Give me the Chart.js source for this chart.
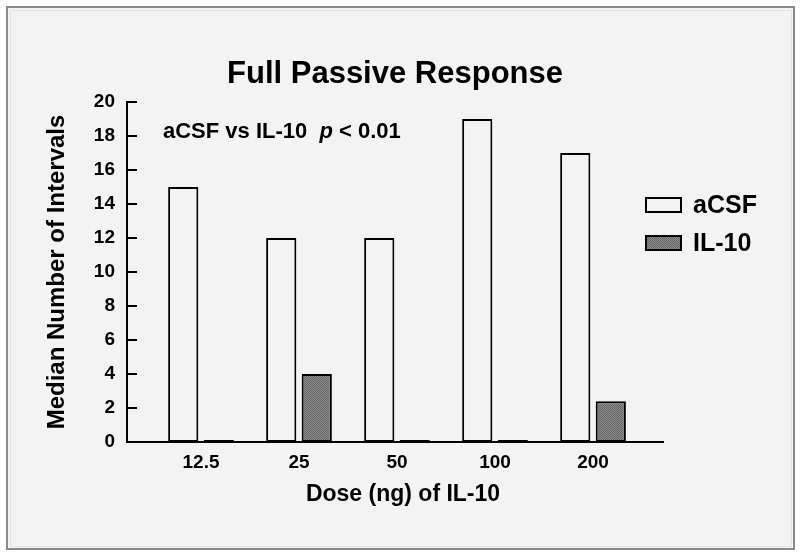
<!DOCTYPE html>
<html>
<head>
<meta charset="utf-8">
<script src="https://cdn.jsdelivr.net/npm/chart.js@4.4.1/dist/chart.umd.min.js"></script>
<style>
  html, body { margin: 0; padding: 0; background: #fff; }
</style>
</head>
<body>
<canvas id="myChart" width="800" height="559"></canvas>
<script>
// Data
var doses = ["12.5", "25", "50", "100", "200"];
var acsfValues = [15, 12, 12, 19, 17];
var il10Values = [0, 4, 0, 0, 2.4];
var seriesNames = ["aCSF", "IL-10"];
var yMax = 20;
var yStep = 2;

var FONT = "'Liberation Sans', Arial, Helvetica, sans-serif";
var BG = "#f3f3f3";

// fine dotted grey fill like the printed IL-10 bars
function makePattern() {
  var c = document.createElement("canvas");
  c.width = 2; c.height = 2;
  var g = c.getContext("2d");
  g.fillStyle = "#8c8c8c"; g.fillRect(0, 0, 2, 2);
  g.fillStyle = "#666"; g.fillRect(0, 0, 1, 1); g.fillRect(1, 1, 1, 1);
  return g.createPattern(c, "repeat");
}

// panel background + frame
var framePlugin = {
  id: "frame",
  beforeDraw: function (chart) {
    var c = chart.ctx;
    c.save();
    c.fillStyle = "#fff";
    c.fillRect(0, 0, chart.width, chart.height);
    c.fillStyle = BG;
    c.fillRect(7, 7, 787, 542);
    c.strokeStyle = "#8a8a8a";
    c.lineWidth = 2;
    c.strokeRect(7, 7, 787, 542);
    c.strokeStyle = "#e2e2e2";
    c.lineWidth = 1;
    c.strokeRect(10.5, 10.5, 781, 536);
    c.restore();
  }
};

// title, x title, inward y ticks, annotation and legend
var extrasPlugin = {
  id: "extras",
  afterDraw: function (chart) {
    var c = chart.ctx;
    var y = chart.scales.y;
    var left = chart.chartArea.left;
    c.save();
    c.strokeStyle = "#000";
    c.lineWidth = 2;
    y.ticks.forEach(function (t) {
      var py = Math.round(y.getPixelForValue(t.value));
      c.beginPath();
      c.moveTo(left, py);
      c.lineTo(left + 10, py);
      c.stroke();
    });

    c.fillStyle = "#000";
    c.textBaseline = "middle";

    // title
    c.textAlign = "center";
    c.font = "bold 31px " + FONT;
    c.fillText("Full Passive Response", 395, 74);

    // x axis title
    c.font = "bold 23px " + FONT;
    c.fillText("Dose (ng) of IL-10", 403, 495);

    // annotation
    c.textAlign = "left";
    var ax = 163, ay = 132;
    c.font = "bold 22px " + FONT;
    var s1 = "aCSF vs IL-10  ";
    c.fillText(s1, ax, ay);
    ax += c.measureText(s1).width;
    c.font = "italic bold 22px " + FONT;
    c.fillText("p", ax, ay);
    ax += c.measureText("p").width;
    c.font = "bold 22px " + FONT;
    c.fillText(" < 0.01", ax, ay);

    // legend
    var rows = [205, 243];
    chart.data.datasets.forEach(function (ds, i) {
      var cy = rows[i];
      c.fillStyle = ds.backgroundColor;
      c.fillRect(646, cy - 7, 35, 14);
      c.strokeStyle = "#000";
      c.lineWidth = 2;
      c.strokeRect(646, cy - 7, 35, 14);
      c.fillStyle = "#000";
      c.font = "bold 25px " + FONT;
      c.fillText(ds.label, 693, cy + 1);
    });
    c.restore();
  }
};

function points(values) {
  return values.map(function (v, i) { return { x: i, y: v }; });
}

var ctx = document.getElementById("myChart").getContext("2d");

var myChart = new Chart(ctx, {
  type: "bar",
  data: {
    datasets: [
      {
        label: seriesNames[0],
        data: points(acsfValues),
        backgroundColor: BG,
        borderColor: "#000",
        borderWidth: 2,
        borderSkipped: false
      },
      {
        label: seriesNames[1],
        data: points(il10Values),
        backgroundColor: makePattern(),
        borderColor: "#000",
        borderWidth: 2,
        borderSkipped: false,
        minBarLength: 2
      }
    ]
  },
  options: {
    responsive: false,
    animation: false,
    categoryPercentage: 0.725,
    barPercentage: 0.85,
    layout: { padding: { left: 0, right: 137, top: 102, bottom: 0 } },
    plugins: {
      legend: { display: false },
      tooltip: { enabled: false },
      title: { display: false }
    },
    scales: {
      x: {
        type: "linear",
        offset: false,
        min: -0.755,
        max: 4.714,
        afterFit: function (s) { s.height = 117; },
        grid: { display: false, drawTicks: false },
        border: { display: true, color: "#000", width: 2 },
        ticks: {
          stepSize: 1,
          includeBounds: false,
          autoSkip: false,
          maxRotation: 0,
          padding: 9,
          color: "#000",
          font: { family: FONT, size: 19, weight: "bold" },
          callback: function (v) { return doses[v] !== undefined ? doses[v] : ""; }
        }
      },
      y: {
        min: 0,
        max: yMax,
        afterFit: function (s) { s.width = 127; },
        grid: { display: false, drawTicks: false },
        border: { display: true, color: "#000", width: 2 },
        ticks: {
          stepSize: yStep,
          padding: 12,
          color: "#000",
          font: { family: FONT, size: 19, weight: "bold" }
        },
        title: {
          display: true,
          text: "Median Number of Intervals",
          color: "#000",
          font: { family: FONT, size: 24, weight: "bold", lineHeight: 1.2 },
          padding: { top: 43, bottom: 0 }
        }
      }
    }
  },
  plugins: [framePlugin, extrasPlugin]
});
</script>
</body>
</html>
